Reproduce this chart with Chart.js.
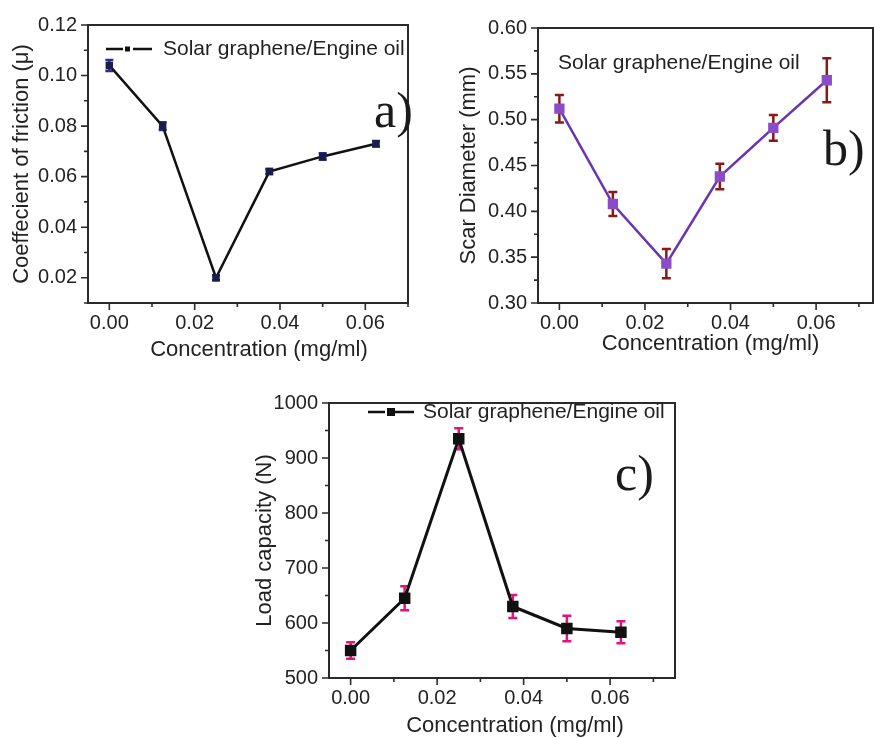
<!DOCTYPE html>
<html>
<head>
<meta charset="utf-8">
<script src="https://cdn.jsdelivr.net/npm/chart.js@4.4.0/dist/chart.umd.min.js"></script>
<style>
  html, body { margin: 0; padding: 0; background: #fff; }
  #page { position: relative; width: 874px; height: 738px; overflow: hidden; }
  .panel { position: absolute; }
</style>
</head>
<body>
<div id="page">
  <div class="panel" style="left:0px;top:0px;width:440px;height:370px"><canvas id="chartA"></canvas></div>
  <div class="panel" style="left:440px;top:0px;width:434px;height:370px"><canvas id="chartB"></canvas></div>
  <div class="panel" style="left:250px;top:380px;width:440px;height:358px"><canvas id="chartC"></canvas></div>
</div>
<script>
// Data
const concentration = [0, 0.0125, 0.025, 0.0375, 0.05, 0.0625];

const frictionValues = [0.104, 0.080, 0.020, 0.062, 0.068, 0.073];
const frictionErrors = [0.0022, 0.0015, 0.0010, 0.0010, 0.0013, 0.0011];

const scarValues = [0.512, 0.408, 0.343, 0.438, 0.491, 0.543];
const scarErrors = [0.015, 0.013, 0.016, 0.014, 0.014, 0.024];

const loadValues = [550, 645, 935, 630, 590, 583];
const loadErrors = [15, 22, 19, 21, 23, 20];

// Tick labels
const concTicks = [0, 0.02, 0.04, 0.06];
const concMinorTicks = [0.01, 0.03, 0.05, 0.07];
const frictionTicks = [0.02, 0.04, 0.06, 0.08, 0.10, 0.12];
const frictionMinorTicks = [0.01, 0.03, 0.05, 0.07, 0.09, 0.11];
const scarTicks = [0.30, 0.35, 0.40, 0.45, 0.50, 0.55, 0.60];
const scarMinorTicks = [0.325, 0.375, 0.425, 0.475, 0.525, 0.575];
const loadTicks = [500, 600, 700, 800, 900, 1000];
const loadMinorTicks = [550, 650, 750, 850, 950];

const seriesLabel = 'Solar graphene/Engine oil';
const xTitle = 'Concentration (mg/ml)';

const SANS = "'Liberation Sans', Arial, sans-serif";
const SERIF = "'Liberation Serif', 'Times New Roman', serif";

Chart.defaults.font.family = SANS;
Chart.defaults.color = '#222';

function toPoints(values) {
  return values.map((v, i) => ({ x: concentration[i], y: v }));
}

// error bars drawn under the markers, positioned through the chart scales
function errorBarPlugin(values, errors, color, capHalf, width) {
  return {
    id: 'errorBars',
    beforeDatasetsDraw(chart) {
      const { ctx, scales: { x, y } } = chart;
      ctx.save();
      ctx.strokeStyle = color;
      ctx.lineWidth = width;
      ctx.beginPath();
      values.forEach((v, i) => {
        const px = x.getPixelForValue(concentration[i]);
        const top = y.getPixelForValue(v + errors[i]);
        const bot = y.getPixelForValue(v - errors[i]);
        ctx.moveTo(px, top); ctx.lineTo(px, bot);
        ctx.moveTo(px - capHalf, top); ctx.lineTo(px + capHalf, top);
        ctx.moveTo(px - capHalf, bot); ctx.lineTo(px + capHalf, bot);
      });
      ctx.stroke();
      ctx.restore();
    }
  };
}

// box frame + major/minor tick marks, x title, legend text and panel letter
function framePlugin(opts) {
  return {
    id: 'frame',
    afterDraw(chart) {
      const { ctx, chartArea: a, scales: { x, y } } = chart;
      ctx.save();
      ctx.strokeStyle = '#2a2a2a';
      ctx.lineWidth = 2;
      ctx.strokeRect(a.left, a.top, a.right - a.left, a.bottom - a.top);

      ctx.lineWidth = 1.6;
      ctx.beginPath();
      concTicks.forEach(v => {
        const px = x.getPixelForValue(v);
        ctx.moveTo(px, a.bottom); ctx.lineTo(px, a.bottom + 7);
      });
      concMinorTicks.forEach(v => {
        const px = x.getPixelForValue(v);
        ctx.moveTo(px, a.bottom); ctx.lineTo(px, a.bottom + 4);
      });
      opts.yTicks.forEach(v => {
        const py = y.getPixelForValue(v);
        ctx.moveTo(a.left, py); ctx.lineTo(a.left - 7, py);
      });
      opts.yMinor.forEach(v => {
        const py = y.getPixelForValue(v);
        ctx.moveTo(a.left, py); ctx.lineTo(a.left - 4, py);
      });
      ctx.stroke();

      // x axis title
      ctx.fillStyle = '#222';
      ctx.font = '22px ' + SANS;
      ctx.textAlign = 'center';
      ctx.textBaseline = 'middle';
      ctx.fillText(xTitle, (a.left + a.right) / 2 + opts.xTitle.dx, opts.xTitle.y);

      // legend
      const lg = opts.legend;
      ctx.font = '21px ' + SANS;
      ctx.textAlign = 'left';
      if (lg.symbol) {
        ctx.strokeStyle = '#111';
        ctx.lineWidth = 2.5;
        ctx.beginPath();
        ctx.moveTo(lg.x, lg.y); ctx.lineTo(lg.x + 17, lg.y);
        ctx.moveTo(lg.x + 27, lg.y); ctx.lineTo(lg.x + 46, lg.y);
        ctx.stroke();
        ctx.fillStyle = '#111';
        ctx.fillRect(lg.x + 19, lg.y - lg.sq / 2, lg.sq, lg.sq);
        ctx.fillStyle = '#222';
        ctx.fillText(seriesLabel, lg.x + lg.gap, lg.y);
      } else {
        ctx.fillText(seriesLabel, lg.x, lg.y);
      }

      // panel letter
      ctx.font = '50px ' + SERIF;
      ctx.textBaseline = 'alphabetic';
      ctx.fillStyle = '#1a1a1a';
      ctx.fillText(opts.letter.text, opts.letter.x, opts.letter.y);
      ctx.restore();
    }
  };
}

function makePanel(canvasId, cfg) {
  const ctx = document.getElementById(canvasId).getContext('2d');
  return new Chart(ctx, {
    type: 'line',
    data: {
      datasets: [{
        label: seriesLabel,
        data: toPoints(cfg.values),
        borderColor: cfg.lineColor,
        borderWidth: cfg.lineWidth,
        backgroundColor: cfg.markerColor,
        pointBackgroundColor: cfg.markerColor,
        pointBorderColor: cfg.markerColor,
        pointStyle: 'rect',
        pointRadius: cfg.markerRadius,
        tension: 0
      }]
    },
    options: {
      responsive: true,
      maintainAspectRatio: false,
      animation: false,
      devicePixelRatio: 1,
      layout: { padding: cfg.padding, autoPadding: false },
      plugins: {
        legend: { display: false },
        tooltip: { enabled: false }
      },
      scales: {
        x: {
          type: 'linear',
          min: -0.005,
          max: cfg.xMax,
          afterBuildTicks: s => { s.ticks = concTicks.map(v => ({ value: v })); },
          afterFit: s => {
            s.height = cfg.xHeight;
            s.paddingLeft = 0;
            s.paddingRight = 0;
          },
          grid: { display: false, drawTicks: false },
          border: { display: false },
          ticks: {
            padding: 8,
            font: { size: 20 },
            color: '#222',
            maxRotation: 0,
            callback: v => v.toFixed(2)
          },
          title: { display: false }
        },
        y: {
          type: 'linear',
          min: cfg.yMin,
          max: cfg.yMax,
          afterBuildTicks: s => { s.ticks = cfg.yTicks.map(v => ({ value: v })); },
          afterFit: s => { s.width = cfg.yWidth; },
          grid: { display: false, drawTicks: false },
          border: { display: false },
          ticks: {
            padding: 11,
            font: { size: 20 },
            color: '#222',
            callback: cfg.yFormat
          },
          title: {
            display: true,
            text: cfg.yTitle,
            font: { size: 22 },
            color: '#222',
            padding: { top: cfg.yTitlePad, bottom: 0 }
          }
        }
      }
    },
    plugins: [
      errorBarPlugin(cfg.values, cfg.errors, cfg.errColor, cfg.capHalf, cfg.errWidth),
      framePlugin({
        yTicks: cfg.yTicks,
        yMinor: cfg.yMinor,
        xTitle: cfg.xTitle,
        legend: cfg.legend,
        letter: cfg.letter
      })
    ]
  });
}

makePanel('chartA', {
  values: frictionValues,
  errors: frictionErrors,
  yTicks: frictionTicks,
  yMinor: frictionMinorTicks,
  yMin: 0.01, yMax: 0.12, xMax: 0.07,
  yFormat: v => v.toFixed(2),
  yTitle: 'Coeffecient of friction (\u03bc)',
  lineColor: '#111', lineWidth: 2.5,
  markerColor: '#1c1c4a', markerRadius: 3.5,
  errColor: '#2b2b9a', errWidth: 2.5, capHalf: 4,
  padding: { top: 25, right: 32, left: 0, bottom: 0 },
  xHeight: 67, yWidth: 88, yTitlePad: 9,
  xTitle: { dx: 11, y: 350 },
  legend: { x: 106, y: 49, symbol: true, sq: 5, gap: 57 },
  letter: { text: 'a)', x: 374, y: 127 }
});

makePanel('chartB', {
  values: scarValues,
  errors: scarErrors,
  yTicks: scarTicks,
  yMinor: scarMinorTicks,
  yMin: 0.30, yMax: 0.60, xMax: 0.0733,
  yFormat: v => v.toFixed(2),
  yTitle: 'Scar Diameter (mm)',
  lineColor: '#6a34b0', lineWidth: 2.5,
  markerColor: '#8a4cc8', markerRadius: 5.5,
  errColor: '#8a1818', errWidth: 2.5, capHalf: 4.5,
  padding: { top: 28, right: 1, left: 0, bottom: 0 },
  xHeight: 67, yWidth: 98, yTitlePad: 16,
  xTitle: { dx: 5, y: 344 },
  legend: { x: 118, y: 63, symbol: false },
  letter: { text: 'b)', x: 383, y: 165 }
});

makePanel('chartC', {
  values: loadValues,
  errors: loadErrors,
  yTicks: loadTicks,
  yMinor: loadMinorTicks,
  yMin: 500, yMax: 1000, xMax: 0.075,
  yFormat: v => String(v),
  yTitle: 'Load capacity (N)',
  lineColor: '#111', lineWidth: 3,
  markerColor: '#111', markerRadius: 6,
  errColor: '#e0147a', errWidth: 2.5, capHalf: 4.5,
  padding: { top: 15, right: 15, left: 0, bottom: 0 },
  xHeight: 60, yWidth: 79, yTitlePad: 2,
  xTitle: { dx: 13, y: 346 },
  legend: { x: 118, y: 32, symbol: true, sq: 8, gap: 55 },
  letter: { text: 'c)', x: 365, y: 110 }
});
</script>
</body>
</html>
